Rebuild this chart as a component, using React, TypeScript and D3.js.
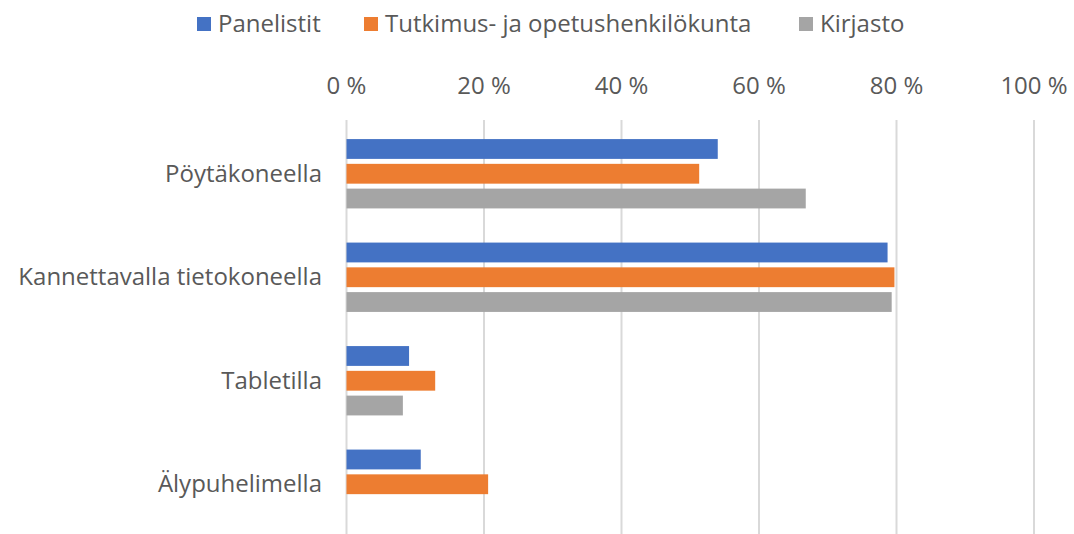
import React, { useEffect, useRef } from "react";
import * as d3 from "d3";

// kategoriat ja sarjat
const categories = ["Pöytäkoneella", "Kannettavalla tietokoneella", "Tabletilla", "Älypuhelimella"];
const seriesNames = ["Panelistit", "Tutkimus- ja opetushenkilökunta", "Kirjasto"];
const seriesColors = ["#4472C4", "#ED7D31", "#A5A5A5"];
const panelistit = [54.0, 78.7, 9.1, 10.8];
const henkilokunta = [51.3, 79.7, 12.9, 20.6];
const kirjasto = [66.8, 79.3, 8.2, null];
const xTicks = [0, 20, 40, 60, 80, 100];

const W = 1074;
const H = 534;
const FONT = "'Open Sans', 'DejaVu Sans', sans-serif";
const FS = 24;

export default function App() {
  const svgRef = useRef<SVGSVGElement>(null);

  useEffect(() => {
    const svg = d3.select(svgRef.current);
    svg.selectAll("*").remove();

    const left = 346.5;
    const right = 1034;
    const top = 122;
    const bottom = 536;

    const x = d3.scaleLinear().domain([0, 100]).range([left, right]);
    const y = d3.scaleBand().domain(categories).range([top, bottom]).paddingInner(0.33).paddingOuter(0.165);
    const ySub = d3.scaleBand().domain(seriesNames).range([0, y.bandwidth()]).paddingInner(0.2);

    // pystyviivat
    svg.append("g")
      .selectAll("line")
      .data(xTicks)
      .join("line")
      .attr("x1", d => x(d))
      .attr("x2", d => x(d))
      .attr("y1", 120)
      .attr("y2", H)
      .attr("stroke", "#d9d9d9")
      .attr("stroke-width", 2);

    // x-akselin otsikot ylhäällä
    svg.append("g")
      .selectAll("text")
      .data(xTicks)
      .join("text")
      .attr("x", d => x(d))
      .attr("y", 94)
      .attr("text-anchor", "middle")
      .attr("font-family", FONT)
      .attr("font-size", FS)
      .attr("fill", "#595959")
      .text(d => `${d} %`);

    // kategoriat
    svg.append("g")
      .selectAll("text")
      .data(categories)
      .join("text")
      .attr("x", 322)
      .attr("y", d => (y(d) as number) + y.bandwidth() / 2 + 8)
      .attr("text-anchor", "end")
      .attr("font-family", FONT)
      .attr("font-size", FS)
      .attr("fill", "#595959")
      .text(d => d);

    const allSeries = [panelistit, henkilokunta, kirjasto];
    allSeries.forEach((vals, si) => {
      svg.append("g")
        .selectAll("rect")
        .data(vals.map((v, i) => ({ v, c: categories[i] })).filter(d => d.v != null))
        .join("rect")
        .attr("x", x(0))
        .attr("y", d => (y(d.c) as number) + (ySub(seriesNames[si]) as number))
        .attr("width", d => x(d.v as number) - x(0))
        .attr("height", ySub.bandwidth())
        .attr("fill", seriesColors[si]);
    });

    // selite
    const legendX = [197, 364, 799];
    const lg = svg.append("g");
    seriesNames.forEach((name, i) => {
      lg.append("rect")
        .attr("x", legendX[i])
        .attr("y", 17)
        .attr("width", 14)
        .attr("height", 14)
        .attr("fill", seriesColors[i]);
      lg.append("text")
        .attr("x", legendX[i] + 21)
        .attr("y", 32)
        .attr("font-family", FONT)
        .attr("font-size", FS)
        .attr("fill", "#595959")
        .text(name);
    });
  }, []);

  return (
    <svg
      ref={svgRef}
      width={W}
      height={H}
      style={{ position: "absolute", left: 0, top: 0, background: "#fff" }}
    />
  );
}
